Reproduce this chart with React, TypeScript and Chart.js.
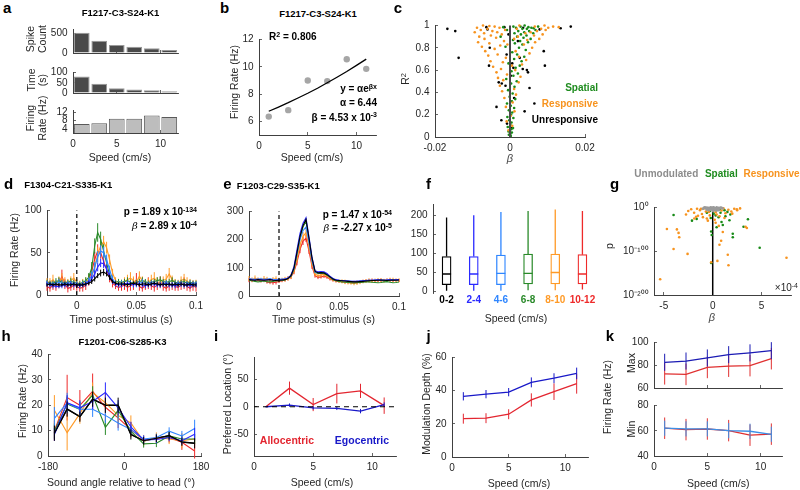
import React, { useEffect, useRef } from 'react';
import { Chart, registerables } from 'chart.js';

Chart.register(...registerables);

const FONT = '"Liberation Sans", Arial, Helvetica, sans-serif';
Chart.defaults.font.family = FONT;

/* ================= DATA ================= */
// panel a / b
const aSpeed = [1, 3, 5, 7, 9, 11];
const aSpikeCount = [515, 310, 207, 160, 122, 75];
const aTimeSec = [81, 45, 23, 17, 13, 9];
const aRateHz = [6.35, 6.82, 9.0, 8.95, 10.55, 9.85];
const bFitSpeed = [1, 2, 3, 4, 5, 6, 7, 8, 9, 10, 11];
const bFitRate = [6.74, 7.05, 7.37, 7.71, 8.06, 8.43, 8.83, 9.23, 9.65, 10.1, 10.56];

// panel c  [beta, R^2]
const cUnresponsive = [
  [-0.0167, 0.97], [-0.0146, 0.95], [-0.0137, 0.71], [-0.0063, 0.985], [-0.006, 0.965], [-0.0056, 0.64],
  [-0.0054, 0.8], [-0.0036, 0.27], [-0.003, 0.49], [-0.0023, 0.15], [-0.0015, 0.985], [-0.0022, 0.48],
  [-0.0012, 0.46], [0.0006, 0.66], [0.0009, 0.62], [0.0034, 0.61], [0.0045, 0.6], [0.0048, 0.58],
  [0.0039, 0.23], [0.0052, 0.44], [0.0065, 0.3], [0.009, 0.77], [0.0093, 0.64], [0.0079, 0.965],
  [0.0035, 0.98], [0.0011, 0.35], [-0.0008, 0.12], [0.0002, 0.55], [0.0135, 0.975], [0.0162, 0.99],
  [-0.0009, 0.74], [0.0021, 0.86], [0.0026, 0.71], [0.0005, 0.08], [-0.0004, 0.92],
];
const cSpatial = [
  [0.0002, 0.01], [-0.0003, 0.02], [0.0001, 0.03], [0.0005, 0.04], [-0.0004, 0.05], [0.0003, 0.07],
  [0.0008, 0.08], [-0.0006, 0.09], [0.0001, 0.11], [0.0004, 0.13], [-0.0002, 0.15], [0.0009, 0.17],
  [-0.0007, 0.18], [0.0003, 0.2], [0.0006, 0.22], [-0.0003, 0.24], [0.0011, 0.26], [0.0002, 0.28],
  [-0.0008, 0.3], [0.0005, 0.32], [0.0014, 0.34], [-0.0001, 0.36], [0.0007, 0.39], [-0.0005, 0.42],
  [0.0012, 0.45], [0.0003, 0.48], [0.0018, 0.5], [-0.001, 0.52], [0.0009, 0.55], [0.0021, 0.57],
  [0.0004, 0.59], [0.0015, 0.62], [0.0026, 0.64], [-0.0004, 0.66], [0.0031, 0.68], [0.0011, 0.7],
  [0.0038, 0.72], [0.0019, 0.74], [0.0006, 0.76], [0.0042, 0.78], [0.0024, 0.8], [-0.0012, 0.81],
  [0.0033, 0.83], [0.0013, 0.84], [0.0048, 0.85], [0.0027, 0.86], [0.0008, 0.87], [0.0055, 0.88],
  [0.0036, 0.89], [0.0019, 0.9], [-0.0025, 0.9], [0.0044, 0.91], [0.0029, 0.92], [0.0062, 0.93],
  [0.0012, 0.93], [0.0038, 0.94], [0.0051, 0.95], [0.0022, 0.95], [-0.0008, 0.96], [0.0068, 0.96],
  [0.0033, 0.97], [0.0045, 0.97], [0.0016, 0.98], [0.0057, 0.98], [0.0028, 0.99], [0.0075, 0.99],
  [0.0039, 1.0], [0.0009, 0.99], [0.0049, 0.985], [-0.0018, 0.985], [0.0063, 0.975],
];
const cResponsive = [
  [-0.0004, 0.06], [0.0006, 0.1], [-0.0009, 0.14], [0.0002, 0.19], [0.0012, 0.23], [-0.0011, 0.27],
  [0.0007, 0.31], [-0.0015, 0.35], [0.0016, 0.38], [-0.0021, 0.41], [0.0011, 0.43], [-0.0027, 0.46],
  [0.0023, 0.49], [-0.0018, 0.51], [-0.0032, 0.53], [0.0028, 0.54], [-0.0008, 0.56], [-0.0036, 0.58],
  [0.0014, 0.6], [-0.0024, 0.61], [-0.0045, 0.63], [0.0032, 0.65], [-0.0019, 0.67], [-0.0052, 0.68],
  [0.0043, 0.69], [-0.0011, 0.71], [0.0024, 0.72], [-0.0058, 0.73], [-0.0033, 0.74], [0.0052, 0.75],
  [-0.0066, 0.77], [0.0015, 0.77], [-0.0041, 0.79], [0.0059, 0.8], [-0.0075, 0.81], [-0.0026, 0.82],
  [0.0037, 0.83], [-0.0055, 0.84], [0.0067, 0.85], [-0.0085, 0.85], [-0.0016, 0.86], [0.0046, 0.87],
  [-0.0068, 0.88], [0.0078, 0.88], [-0.0037, 0.89], [0.0021, 0.9], [-0.0082, 0.9], [-0.0051, 0.91],
  [0.0064, 0.91], [-0.0022, 0.92], [0.0087, 0.92], [-0.0069, 0.93], [-0.0034, 0.94], [0.0055, 0.94],
  [-0.0094, 0.94], [0.0072, 0.95], [-0.0047, 0.95], [-0.0013, 0.96], [0.0095, 0.96], [-0.0078, 0.96],
  [0.0083, 0.97], [-0.006, 0.97], [-0.0028, 0.98], [0.0102, 0.98], [-0.0088, 0.98], [0.0066, 0.99],
  [-0.0041, 0.99], [0.0115, 0.99], [-0.0072, 1.0], [0.0025, 1.0], [0.0092, 1.0], [-0.0055, 0.995],
  [0.013, 0.985], [0.0018, 0.97], [0.0041, 0.93], [0.0011, 0.88], [-0.0007, 0.83], [0.0005, 0.64],
];

// panels d / e : time bins (s)
const tBins = [
  -0.025, -0.0225, -0.02, -0.0175, -0.015, -0.0125, -0.01, -0.0075, -0.005, -0.0025,
  0, 0.0025, 0.005, 0.0075, 0.01, 0.0125, 0.015, 0.0175, 0.02, 0.0225,
  0.025, 0.0275, 0.03, 0.0325, 0.035, 0.0375, 0.04, 0.0425, 0.045, 0.0475,
  0.05, 0.0525, 0.055, 0.0575, 0.06, 0.0625, 0.065, 0.0675, 0.07, 0.0725,
  0.075, 0.0775, 0.08, 0.0825, 0.085, 0.0875, 0.09, 0.0925, 0.095, 0.0975, 0.1,
];
const dBlack = [12,13,12,13,12,12,13,12,12,13, 12,12,12,13,14,16,19,23,26,27, 25,21,16,14,13,13,13,12,13,14, 13,12,13,13,12,13,14,13,12,13, 12,13,12,13,12,13,12,12,13,12, 12];
const dBlue = [13,12,11,10,10,11,12,12,13,12, 12,11,12,13,15,19,25,33,38,37, 31,22,16,13,12,12,13,14,13,12, 13,13,12,11,12,13,13,12,12,13, 13,12,12,11,12,13,12,12,11,12, 12];
const dLightBlue = [14,13,13,14,15,14,13,14,14,13, 13,12,13,14,17,23,33,45,52,50, 42,30,19,14,13,14,13,13,14,13, 12,14,15,13,13,14,14,13,12,13, 14,13,12,13,14,13,12,13,14,13, 13];
const dGreen = [15,14,14,16,17,15,14,15,16,15, 14,13,15,17,21,32,58,74,66,52, 38,24,17,15,16,15,16,17,15,14, 15,16,17,16,14,15,16,17,18,16, 15,16,17,15,14,15,16,14,15,14, 14];
const dOrange = [16,15,18,14,17,19,16,15,17,20, 15,13,14,16,18,22,32,48,58,63, 56,42,26,17,15,14,16,18,20,17, 15,22,17,13,15,18,20,16,14,17, 19,25,18,15,14,17,19,16,15,13, 14];
const dRed = [10,8,12,10,14,22,13,8,9,12, 10,8,9,12,18,28,42,52,50,40, 30,20,14,11,9,10,12,9,11,13, 18,10,8,12,14,11,9,12,15,10, 8,11,13,10,9,12,14,10,8,11, 9];
const dBlackErr = [2,2,2,2,2,2,2,2,2,2, 2,2,2,2,2,3,3,3,4,4, 3,3,2,2,2,2,2,2,2,2, 2,2,2,2,2,2,2,2,2,2, 2,2,2,2,2,2,2,2,2,2, 2];
const dBlueErr = [3,3,3,2,2,3,3,3,3,3, 3,3,3,3,3,4,4,5,5,5, 4,4,3,3,3,3,3,3,3,3, 3,3,3,3,3,3,3,3,3,3, 3,3,3,3,3,3,3,3,3,3, 3];
const dLightBlueErr = [3,3,3,3,4,3,3,3,3,3, 3,3,3,3,4,5,6,7,7,7, 6,5,4,3,3,3,3,3,3,3, 3,3,4,3,3,3,3,3,3,3, 3,3,3,3,3,3,3,3,3,3, 3];
const dGreenErr = [3,3,3,4,4,3,3,3,4,3, 3,3,3,4,5,7,9,11,9,8, 6,5,4,3,3,3,3,4,3,3, 3,3,4,3,3,3,3,4,4,3, 3,3,4,3,3,3,3,3,3,3, 3];
const dOrangeErr = [4,5,6,4,5,7,5,4,5,6, 4,4,5,5,6,7,8,9,8,7, 7,6,5,4,4,4,5,6,7,5, 4,6,5,4,5,6,7,5,4,5, 6,7,5,4,4,5,6,5,4,4, 4];
const dRedErr = [5,4,6,5,6,8,6,5,4,6, 5,4,5,6,7,8,9,8,7,6, 6,5,5,4,4,5,6,5,6,7, 8,5,4,6,7,5,5,6,7,5, 4,6,7,5,4,6,7,5,4,6, 5];

const eBlack = [58,57,56,58,57,56,57,58,56,55, 56,57,58,62,72,100,155,212,250,272, 205,135,88,82,83,82,76,68,60,56, 55,54,53,52,51,50,50,51,52,53, 54,55,55,56,57,56,55,56,57,56, 57];
const eBlue = [60,58,57,59,58,57,58,59,57,56, 57,58,60,64,74,105,165,222,258,278, 210,138,90,86,87,86,80,70,62,58, 56,55,54,53,52,52,52,53,54,55, 56,56,57,58,57,56,57,58,57,58, 58];
const eLightBlue = [61,60,59,60,61,59,60,61,59,58, 59,60,61,64,72,98,150,200,232,245, 190,125,85,82,84,83,78,68,61,57, 56,55,54,53,52,51,52,53,54,55, 56,56,57,56,57,56,57,58,57,56, 57];
const eGreen = [55,54,52,50,52,53,51,50,52,53, 54,55,57,62,70,95,148,205,245,265, 198,128,84,80,81,80,74,66,58,54, 52,50,49,48,47,46,47,48,49,50, 50,49,48,47,48,50,51,49,47,48, 50];
const eOrange = [62,58,63,59,57,62,60,56,59,61, 57,58,60,63,70,90,132,180,212,225, 175,115,78,72,75,76,72,64,58,55, 53,52,50,48,46,45,47,49,51,53, 55,54,56,57,55,54,56,58,57,55, 56];
const eRed = [56,55,58,57,54,56,50,48,47,49, 52,55,58,62,68,86,120,165,195,205, 160,105,72,66,68,70,67,60,56,53, 52,51,50,49,48,48,49,50,52,54, 55,56,55,54,56,55,57,56,55,56, 55];
const eOrangeErr = [9,8,10,7,8,9,8,7,8,9, 8,7,8,8,9,10,12,14,15,14, 12,10,8,7,8,8,7,7,6,6, 6,7,8,7,6,7,8,7,6,7, 8,7,6,7,8,7,6,7,8,7, 7];
const eRedErr = [7,6,7,6,6,7,6,6,7,8, 6,6,7,7,8,9,11,13,14,13, 11,9,7,6,6,6,6,5,5,5, 5,5,6,5,5,6,5,5,6,5, 5,6,5,5,6,5,5,6,5,5, 5];

// panel f (box plot, firing rate per speed bin)
const fLabels = ['0-2', '2-4', '4-6', '6-8', '8-10', '10-12'];
const fLow = [1, 1, 1, 2, 2, 4];
const fQ1 = [17, 17, 17, 19, 19, 19];
const fMedian = [45, 45, 46.5, 46.5, 49, 45];
const fQ3 = [91, 91, 95, 97.6, 97.6, 96];
const fHigh = [194, 200, 208, 211, 215, 211];

// panel g  [beta (x1e-4), p]
const gUnmodulated = [
  [-0.8, 1], [-0.6, 0.5], [-0.4, 1e-1], [-0.2, 1], [0, 0.3], [0.2, 1e-2], [0.4, 1], [0.6, 1e-1],
  [0.8, 0.5], [-0.7, 1e-2], [-0.5, 1e-3], [-0.3, 1e-4], [-0.1, 1e-2], [0.1, 1e-5], [0.3, 1e-3],
  [0.5, 1e-4], [0.7, 1e-2], [-0.9, 1e-1], [0.9, 1e-1], [-0.4, 1e-6], [0.4, 1e-7], [0, 1e-3],
  [-0.2, 1e-5], [0.2, 1e-6], [0, 1e-8], [-0.6, 1e-5], [0.6, 1e-6], [1.0, 1e-2], [-1.0, 1e-3], [0.1, 1],
];
const gResponsive = [
  [-2.5, 1e-8], [-2.2, 1e-4], [-1.9, 1e-12], [-1.6, 1e-3], [-1.3, 1e-6], [-1.1, 1e-15], [-0.9, 1e-2],
  [-0.7, 1e-9], [-0.5, 1e-4], [-0.3, 1e-18], [-0.2, 1e-1], [0.1, 1e-6], [0.3, 1e-11], [0.5, 1e-3],
  [0.7, 1e-20], [0.9, 1e-7], [1.1, 1e-2], [1.3, 1e-13], [1.6, 1e-5], [1.9, 1e-9], [2.2, 1e-3],
  [2.5, 1e-6], [2.8, 1e-2], [-1.0, 1e-22], [-0.6, 1e-25], [0.4, 1e-16], [1.2, 1e-24], [-1.5, 1e-19],
  [2.0, 1e-14], [-2.73, 1e-16], [-1.88, 1e-25], [-1.7, 1e-21], [2.46, 1e-4], [-0.4, 1e-10],
  [0.2, 1e-28], [-1.2, 1e-3], [-4.68, 1e-49], [-3.66, 1e-50], [-3.49, 1e-58], [-3.42, 1e-68],
  [-4.0, 1e-95], [-2.57, 1e-106], [-5.37, 1e-164], [-0.16, 1e-125], [0.48, 1e-122], [1.54, 1e-108],
  [1.61, 1e-132], [0.86, 1e-76], [0.69, 1e-85], [3.36, 1e-44], [3.49, 1e-47], [7.54, 1e-115],
  [1.03, 1e-56], [0.62, 1e-42], [0.3, 1e-35], [-0.5, 1e-30],
];
const gSpatial = [
  [-4.0, 1e-17], [-2.12, 1e-30], [-1.64, 1e-26], [-0.16, 1e-55], [-0.1, 1e-63], [2.05, 1e-60],
  [2.05, 1e-68], [3.15, 1e-44], [3.6, 1e-27], [4.8, 1e-92], [-0.16, 1e-127], [1.71, 1e-29],
  [1.03, 1e-40], [0.2, 1e-2], [0.5, 1e-5], [-0.3, 1e-8], [0.8, 1e-12], [1.2, 1e-6], [0.3, 1e-18],
  [-0.5, 1e-3], [1.5, 1e-10], [0.6, 1e-22], [0.1, 1e-14], [0.9, 1e-33], [0.4, 1e-45], [1.3, 1e-20],
  [-0.2, 1e-24], [0.7, 1e-4], [-0.6, 1e-12], [1.8, 1e-16],
];
const gYTicks = [1e-200, 1e-100, 1];
const gYTickLabels = ['10⁻²⁰⁰', '10⁻¹⁰⁰', '10⁰'];

// panel h
const hAngle = [-165, -135, -105, -75, -45, -15, 15, 45, 75, 105, 135, 165];
const hBlack = [9, 18.5, 15.5, 22.4, 20, 20, 8.5, 6, 7, 8, 5.5, 5];
const hBlue = [8.5, 21, 19, 21.5, 25, 19, 11.5, 6.3, 6.5, 7.3, 6, 8.6];
const hLightBlue = [14.8, 20.9, 18.4, 18.4, 16, 13, 10.4, 6.7, 7.3, 9.8, 7.9, 10.8];
const hGreen = [9.8, 20.5, 18.4, 24, 11.3, 18, 9.8, 4.8, 5, 7.9, 6.7, 6.7];
const hOrange = [18, 9.2, 16.7, 25, 21, 16, 13, 5.8, 7.3, 6.7, 6, 6.7];
const hRed = [10, 23, 20, 25.5, 19.2, 15, 10.4, 6.3, 6.7, 7.3, 5.4, 2];
const hBlackErr = [3, 3, 2, 3, 3, 3, 2, 1.5, 1.5, 1.5, 1.5, 2];
const hBlueErr = [2.5, 3, 3, 3, 4, 3, 2, 1.5, 1.5, 1.5, 1.5, 2.5];
const hLightBlueErr = [4.5, 4, 3, 3, 3, 3, 2, 1.5, 1.5, 1.5, 2, 3.5];
const hGreenErr = [3, 3, 3, 3.5, 3, 3, 2, 1.5, 1.5, 1.5, 1.5, 2];
const hOrangeErr = [6, 7, 4, 4, 4, 3, 3, 2, 2, 2, 3, 2];
const hRedErr = [4, 9, 6, 7, 6, 4, 3, 2, 2, 2, 3, 3];

// panels i / j / k (speed bins, cm/s)
const speedBins = [1, 3, 5, 7, 9, 11];
const iAllocentric = [0, 34, 4, 24, 29, 2];
const iAllocentricErr = [0, 12, 12, 18, 13, 15];
const iEgocentric = [0, 3, -2, -3, -8, 4];
const iEgocentricErr = [1, 3, 3, 3, 4, 4];
const jEgocentric = [36.6, 37.9, 39.1, 45, 47.5, 50.4];
const jEgocentricErr = [2.5, 2.5, 2.5, 3, 3, 3.5];
const jAllocentric = [23.1, 23.4, 25.8, 34.4, 39.4, 44.2];
const jAllocentricErr = [3, 3, 3, 4, 5, 6];
const kMaxEgo = [82.6, 83.7, 86.4, 89.3, 90.9, 92.8];
const kMaxEgoErr = [7.5, 7.5, 7.5, 7.5, 7.5, 7.5];
const kMaxAllo = [72.5, 72, 78.1, 79.2, 79.7, 85.8];
const kMaxAlloErr = [9.5, 9.5, 9.5, 9.5, 9.5, 9.5];
const kMinEgo = [62, 61.5, 61.5, 60.1, 59.6, 57.2];
const kMinEgoErr = [6, 6, 6, 6, 6, 6];
const kMinAllo = [62, 60.9, 61.4, 60.1, 56.5, 57.3];
const kMinAlloErr = [8.5, 8.5, 8.5, 8.5, 8.5, 8.5];

/* ================= STYLE ================= */
const AX = '#404040';
const TXT = '#262626';
const speedColors = ['#000000', '#2a2aff', '#2f86ff', '#2a8a2a', '#ff9a26', '#ee2a2a'];
const SC_ORANGE = '#f7931e';
const SC_GREEN = '#178a17';
const RED2 = '#e32630';
const BLUE2 = '#1818c8';

const ML = 46, MR = 22, MT = 10, MB = 26;

type Box = { x: number; y: number; w: number; h: number };

function sc(axis: 'x' | 'y', min: number, max: number, vals: number[], o: any = {}) {
  const isX = axis === 'x';
  return {
    type: o.type || 'linear',
    position: isX ? 'bottom' : 'left',
    min,
    max,
    offset: false,
    grid: { display: o.marks !== false, drawOnChartArea: false, drawTicks: true, tickLength: -3, offset: false, color: AX, lineWidth: 0.8 },
    border: { display: o.line !== false, color: AX, width: 1 },
    ticks: {
      display: o.labels !== false,
      padding: isX ? 8 : 8.5,
      color: TXT,
      font: { size: 10, family: FONT },
      autoSkip: false,
      maxRotation: 0,
      minRotation: 0,
      callback: o.fmt || ((v: any) => String(v)),
    },
    afterBuildTicks: (s: any) => {
      s.ticks = vals.map((v) => ({ value: v }));
    },
    afterFit: (s: any) => {
      if (isX) s.height = MB;
      else s.width = ML;
    },
  };
}

const pts = (xs: number[], ys: number[]) => xs.map((x, i) => ({ x, y: ys[i] }));

const ser = (xs: number[], ys: number[], color: string, extra: any = {}) => ({
  data: pts(xs, ys),
  borderColor: color,
  backgroundColor: color,
  showLine: true,
  pointRadius: 0,
  borderWidth: 1.1,
  tension: 0,
  clip: false,
  ...extra,
});

const dots = (pairs: number[][], color: string, r = 1.3) => ({
  data: pairs.map((p) => ({ x: p[0], y: p[1] })),
  backgroundColor: color,
  borderColor: color,
  pointRadius: r,
  pointBorderWidth: 0,
  showLine: false,
  clip: false,
});

const bars = (xs: number[], ys: number[], fill: string, edge: string) => ({
  data: pts(xs, ys),
  backgroundColor: fill,
  borderColor: edge,
  borderWidth: 1,
  barPercentage: 1,
  categoryPercentage: 0.9,
});

const errPlugin = {
  id: 'errbars',
  beforeDatasetDraw(chart: any, args: any) {
    const ds = chart.data.datasets[args.index];
    if (!ds.errors) return;
    const xs = chart.scales.x;
    const ys = chart.scales.y;
    const ctx = chart.ctx;
    ctx.save();
    ctx.strokeStyle = ds.borderColor;
    ctx.lineWidth = 1;
    ds.data.forEach((p: any, i: number) => {
      const e = ds.errors[i];
      if (!e) return;
      const x = xs.getPixelForValue(p.x);
      ctx.beginPath();
      ctx.moveTo(x, ys.getPixelForValue(p.y - e));
      ctx.lineTo(x, ys.getPixelForValue(p.y + e));
      ctx.stroke();
    });
    ctx.restore();
  },
};

const boxPlugin = {
  id: 'boxwhisk',
  afterDatasetsDraw(chart: any) {
    const ys = chart.scales.y;
    const meta = chart.getDatasetMeta(0);
    const ctx = chart.ctx;
    ctx.save();
    ctx.lineWidth = 1.3;
    fLabels.forEach((_, i) => {
      const el = meta.data[i];
      if (!el) return;
      const x = el.x;
      const hw = el.width / 2;
      ctx.strokeStyle = speedColors[i];
      ctx.beginPath();
      ctx.moveTo(x, ys.getPixelForValue(fQ3[i]));
      ctx.lineTo(x, ys.getPixelForValue(fHigh[i]));
      ctx.moveTo(x, ys.getPixelForValue(fQ1[i]));
      ctx.lineTo(x, ys.getPixelForValue(fLow[i]));
      ctx.moveTo(x - hw, ys.getPixelForValue(fMedian[i]));
      ctx.lineTo(x + hw, ys.getPixelForValue(fMedian[i]));
      ctx.stroke();
    });
    ctx.restore();
  },
};

function cfg(type: string, datasets: any[], x: any, y: any, extra: any = {}) {
  return {
    type,
    data: { datasets, ...(extra.labels ? { labels: extra.labels } : {}) },
    options: {
      responsive: false,
      animation: false,
      events: [],
      layout: { padding: { left: 0, right: MR, top: MT, bottom: 0 } },
      plugins: { legend: { display: false }, tooltip: { enabled: false }, title: { display: false } },
      scales: { x, y },
    },
    plugins: [errPlugin, ...(extra.plugins || [])],
  };
}

const timeSeries = (vals: number[][], errs: (number[] | null)[]) =>
  vals.map((v, i) => ser(tBins, v, speedColors[i], errs[i] ? { errors: errs[i] } : {}));

const specs: { box: Box; cfg: () => any }[] = [
  {
    box: { x: 73, y: 25, w: 105, h: 28 },
    cfg: () => cfg('bar', [bars(aSpeed, aSpikeCount, '#4a4a4a', '#9a9a9a')], sc('x', 0, 12, [0, 5, 10], { labels: false }), sc('y', 0, 600, [0, 500])),
  },
  {
    box: { x: 73, y: 68, w: 105, h: 25 },
    cfg: () => cfg('bar', [bars(aSpeed, aTimeSec, '#4a4a4a', '#9a9a9a')], sc('x', 0, 12, [0, 5, 10], { labels: false }), sc('y', 0, 100, [0, 50, 100])),
  },
  {
    box: { x: 73, y: 106, w: 105, h: 27 },
    cfg: () => cfg('bar', [bars(aSpeed, aRateHz, '#bdbdbd', '#5a5a5a')], sc('x', 0, 12, [0, 5, 10]), sc('y', 2, 13, [4, 8, 12])),
  },
  {
    box: { x: 259, y: 35, w: 117, h: 100 },
    cfg: () =>
      cfg(
        'scatter',
        [ser(bFitSpeed, bFitRate, '#000000', { borderWidth: 1.3 }), dots(aSpeed.map((s, i) => [s, aRateHz[i]]), '#a6a6a6', 3.2)],
        sc('x', 0, 12, [0, 5, 10]),
        sc('y', 5, 12, [6, 8, 10, 12]),
      ),
  },
  {
    box: { x: 435, y: 20.5, w: 150, h: 115.5 },
    cfg: () =>
      cfg(
        'scatter',
        [
          ser([0, 0], [0, 1], '#4a4a4a', { borderWidth: 2 }),
          dots(cResponsive, SC_ORANGE),
          dots(cSpatial, SC_GREEN),
          dots(cUnresponsive, '#000000'),
        ],
        sc('x', -0.02, 0.02, [-0.02, 0, 0.02]),
        sc('y', 0, 1, [0, 0.2, 0.4, 0.6, 0.8, 1]),
      ),
  },
  {
    box: { x: 46.5, y: 205.7, w: 148.5, h: 88.6 },
    cfg: () =>
      cfg(
        'scatter',
        [
          ser([0, 0], [0, 100], '#000000', { borderDash: [4, 3], borderWidth: 1.2 }),
          ...timeSeries([dBlack, dBlue, dLightBlue, dGreen, dOrange, dRed], [dBlackErr, dBlueErr, dLightBlueErr, dGreenErr, dOrangeErr, dRedErr]),
        ],
        sc('x', -0.025, 0.1, [0, 0.05, 0.1]),
        sc('y', 0, 100, [0, 50, 100]),
      ),
  },
  {
    box: { x: 248.5, y: 206.5, w: 150, h: 88.5 },
    cfg: () =>
      cfg(
        'scatter',
        [
          ser([0, 0], [0, 300], '#000000', { borderDash: [4, 3], borderWidth: 1.2 }),
          ...timeSeries([eBlack, eBlue, eLightBlue, eGreen, eOrange, eRed], [null, null, null, null, eOrangeErr, eRedErr]),
        ],
        sc('x', -0.025, 0.1, [0, 0.05, 0.1]),
        sc('y', 0, 300, [0, 100, 200, 300]),
      ),
  },
  {
    box: { x: 432.5, y: 200, w: 163, h: 92.5 },
    cfg: () =>
      cfg(
        'bar',
        [
          {
            data: fQ1.map((q, i) => [q, fQ3[i]]),
            backgroundColor: '#ffffff',
            borderColor: speedColors,
            borderWidth: 1.3,
            borderSkipped: false,
            barThickness: 9,
          },
        ],
        {
          type: 'category',
          position: 'bottom',
          offset: true,
          grid: { display: false, drawTicks: false },
          border: { display: false },
          ticks: {
            padding: 1.5,
            font: { size: 10, weight: 'bold', family: FONT },
            color: (c: any) => speedColors[c.index],
            autoSkip: false,
            maxRotation: 0,
            minRotation: 0,
          },
          afterFit: (s: any) => {
            s.height = MB;
          },
        },
        sc('y', -5, 228, [0, 50, 100, 150, 200]),
        { labels: fLabels, plugins: [boxPlugin] },
      ),
  },
  {
    box: { x: 654, y: 203, w: 137, h: 92 },
    cfg: () =>
      cfg(
        'scatter',
        [
          dots(gUnmodulated, '#9a9a9a', 1.4),
          dots(gResponsive, SC_ORANGE, 1.3),
          dots(gSpatial, SC_GREEN, 1.3),
          ser([0, 0], [1e-200, 1], '#000000', { borderWidth: 1.5 }),
        ],
        sc('x', -6, 8, [-5, 0, 5]),
        sc('y', 1e-200, 1, gYTicks, { type: 'logarithmic', fmt: (_v: any, i: number) => gYTickLabels[i] }),
      ),
  },
  {
    box: { x: 47.5, y: 350, w: 152.5, h: 106 },
    cfg: () =>
      cfg(
        'scatter',
        [
          ser(hAngle, hBlack, speedColors[0], { errors: hBlackErr }),
          ser(hAngle, hBlue, speedColors[1], { errors: hBlueErr }),
          ser(hAngle, hLightBlue, speedColors[2], { errors: hLightBlueErr }),
          ser(hAngle, hGreen, speedColors[3], { errors: hGreenErr }),
          ser(hAngle, hOrange, speedColors[4], { errors: hOrangeErr }),
          ser(hAngle, hRed, speedColors[5], { errors: hRedErr }),
          ser(hAngle, hBlack, speedColors[0], { borderWidth: 1.4 }),
        ],
        sc('x', -180, 180, [-180, 0, 180]),
        sc('y', 0, 40, [0, 10, 20, 30, 40]),
      ),
  },
  {
    box: { x: 254.3, y: 353, w: 141.7, h: 102.5 },
    cfg: () =>
      cfg(
        'scatter',
        [
          ser([0, 12], [0, 0], '#000000', { borderDash: [5, 4], borderWidth: 1.2 }),
          ser(speedBins, iEgocentric, BLUE2, { errors: iEgocentricErr, borderWidth: 1.3 }),
          ser(speedBins, iAllocentric, RED2, { errors: iAllocentricErr, borderWidth: 1.3 }),
        ],
        sc('x', 0, 12, [0, 5, 10]),
        sc('y', -90, 90, [-50, 0, 50]),
      ),
  },
  {
    box: { x: 452, y: 352.7, w: 136, h: 104 },
    cfg: () =>
      cfg(
        'scatter',
        [
          ser(speedBins, jEgocentric, BLUE2, { errors: jEgocentricErr, borderWidth: 1.3 }),
          ser(speedBins, jAllocentric, RED2, { errors: jAllocentricErr, borderWidth: 1.3 }),
        ],
        sc('x', 0, 12, [0, 5, 10]),
        sc('y', 0, 60, [0, 20, 40, 60]),
      ),
  },
  {
    box: { x: 654.3, y: 338.3, w: 127.7, h: 50 },
    cfg: () =>
      cfg(
        'scatter',
        [
          ser(speedBins, kMaxEgo, '#1b1bb4', { errors: kMaxEgoErr, borderWidth: 1.3 }),
          ser(speedBins, kMaxAllo, '#e03030', { errors: kMaxAlloErr, borderWidth: 1.3 }),
        ],
        sc('x', 0, 12, [0, 5, 10], { labels: false }),
        sc('y', 60, 100, [60, 80, 100]),
      ),
  },
  {
    box: { x: 654.3, y: 401, w: 127.7, h: 55 },
    cfg: () =>
      cfg(
        'scatter',
        [
          ser(speedBins, kMinEgo, '#3d8fe6', { errors: kMinEgoErr, borderWidth: 1.3 }),
          ser(speedBins, kMinAllo, '#e03030', { errors: kMinAlloErr, borderWidth: 1.3 }),
        ],
        sc('x', 0, 12, [0, 5, 10]),
        sc('y', 40, 80, [40, 60, 80]),
      ),
  },
];

/* ================= TEXT ================= */
const sup = (t: string) => <span style={{ fontSize: '0.7em', position: 'relative', top: '-0.45em' }}>{t}</span>;
const beta = <span style={{ fontStyle: 'italic', fontWeight: 'normal', fontFamily: '"DejaVu Serif", serif' }}>β</span>;

type Tx = { x: number; y: number; t: React.ReactNode; s?: number; b?: boolean; c?: string; r?: boolean; a?: 'l' | 'c' | 'r'; i?: boolean };

const LET = 15;
const TTL = 9.5;
const LAB = 10.5;
const ANN = 10;
const GREEN_T = '#1f8c1f';
const ORANGE_T = '#f7931e';

const texts: Tx[] = [
  { x: 7.2, y: 6.8, t: 'a', s: LET, b: true },
  { x: 224.5, y: 6.8, t: 'b', s: LET, b: true },
  { x: 398, y: 6.8, t: 'c', s: LET, b: true },
  { x: 8.7, y: 182.8, t: 'd', s: LET, b: true },
  { x: 227.5, y: 182.8, t: 'e', s: LET, b: true },
  { x: 428.5, y: 182.8, t: 'f', s: LET, b: true },
  { x: 614.7, y: 182.8, t: 'g', s: LET, b: true },
  { x: 6, y: 335.3, t: 'h', s: LET, b: true },
  { x: 216, y: 335.3, t: 'i', s: LET, b: true },
  { x: 428.7, y: 335.3, t: 'j', s: LET, b: true },
  { x: 610, y: 335.3, t: 'k', s: LET, b: true },
  { x: 120.5, y: 13.3, t: 'F1217-C3-S24-K1', s: TTL, b: true },
  { x: 318, y: 13.7, t: 'F1217-C3-S24-K1', s: TTL, b: true },
  { x: 68.3, y: 185.3, t: 'F1304-C21-S335-K1', s: TTL, b: true },
  { x: 278.3, y: 185.6, t: 'F1203-C29-S35-K1', s: TTL, b: true },
  { x: 122.5, y: 342, t: 'F1201-C06-S285-K3', s: TTL, b: true },
  { x: 30, y: 39.2, t: 'Spike', s: LAB, r: true, c: TXT },
  { x: 42, y: 39.2, t: 'Count', s: LAB, r: true, c: TXT },
  { x: 30.5, y: 80, t: 'Time', s: LAB, r: true, c: TXT },
  { x: 42, y: 80, t: '(s)', s: LAB, r: true, c: TXT },
  { x: 30, y: 118, t: 'Firing', s: LAB, r: true, c: TXT },
  { x: 42, y: 118, t: 'Rate (Hz)', s: LAB, r: true, c: TXT },
  { x: 120, y: 156.7, t: 'Speed (cm/s)', s: LAB, c: TXT },
  { x: 234, y: 82, t: 'Firing Rate (Hz)', s: LAB, r: true, c: TXT },
  { x: 312, y: 156.7, t: 'Speed (cm/s)', s: LAB, c: TXT },
  { x: 292.8, y: 37, t: <>R{sup('2')} = 0.806</>, s: ANN, b: true },
  { x: 377, y: 89, t: <>y = αe{sup('βx')}</>, s: ANN, b: true, a: 'r' },
  { x: 377, y: 102.7, t: 'α = 6.44', s: ANN, b: true, a: 'r' },
  { x: 377, y: 117.5, t: <>β = 4.53 x 10{sup('-3')}</>, s: ANN, b: true, a: 'r' },
  { x: 405, y: 79, t: <>R{sup('2')}</>, s: LAB, r: true, c: TXT },
  { x: 510, y: 158, t: 'β', s: 11, i: true, c: '#444' },
  { x: 598, y: 88, t: 'Spatial', s: ANN, b: true, a: 'r', c: GREEN_T },
  { x: 598, y: 104, t: 'Responsive', s: ANN, b: true, a: 'r', c: ORANGE_T },
  { x: 598, y: 120, t: 'Unresponsive', s: ANN, b: true, a: 'r', c: '#000' },
  { x: 14, y: 250, t: 'Firing Rate (Hz)', s: LAB, r: true, c: TXT },
  { x: 121, y: 319, t: 'Time post-stimulus (s)', s: LAB, c: TXT },
  { x: 197, y: 211.7, t: <>p = 1.89 x 10{sup('-134')}</>, s: ANN, b: true, a: 'r' },
  { x: 197, y: 226, t: <>{beta} = 2.89 x 10{sup('-4')}</>, s: ANN, b: true, a: 'r' },
  { x: 323.5, y: 319, t: 'Time post-stimulus (s)', s: LAB, c: TXT },
  { x: 392, y: 215, t: <>p = 1.47 x 10{sup('-54')}</>, s: ANN, b: true, a: 'r' },
  { x: 392, y: 228.3, t: <>{beta} = -2.27 x 10{sup('-5')}</>, s: ANN, b: true, a: 'r' },
  { x: 516, y: 318, t: 'Speed (cm/s)', s: LAB, c: TXT },
  { x: 666.3, y: 174, t: 'Unmodulated', s: ANN, b: true, c: '#8c8c8c' },
  { x: 721.3, y: 174, t: 'Spatial', s: ANN, b: true, c: GREEN_T },
  { x: 771.5, y: 174, t: 'Responsive', s: ANN, b: true, c: ORANGE_T },
  { x: 798, y: 287.7, t: <>×10{sup('-4')}</>, s: 10, a: 'r', c: TXT },
  { x: 609, y: 246, t: 'p', s: LAB, r: true, c: TXT },
  { x: 712, y: 317, t: 'β', s: 11, i: true, c: '#444' },
  { x: 21.7, y: 401, t: 'Firing Rate (Hz)', s: LAB, r: true, c: TXT },
  { x: 121, y: 481.7, t: 'Sound angle relative to head (°)', s: LAB, c: TXT },
  { x: 227, y: 404, t: 'Preferred Location (°)', s: LAB, r: true, c: TXT },
  { x: 322, y: 482.3, t: 'Speed (cm/s)', s: LAB, c: TXT },
  { x: 287, y: 440, t: 'Allocentric', s: 10.5, b: true, c: RED2 },
  { x: 362, y: 440, t: 'Egocentric', s: 10.5, b: true, c: BLUE2 },
  { x: 425.8, y: 404, t: 'Modulation Depth (%)', s: LAB, r: true, c: TXT },
  { x: 519, y: 483.3, t: 'Speed (cm/s)', s: LAB, c: TXT },
  { x: 607, y: 397, t: 'Firing Rate (Hz)', s: LAB, r: true, c: TXT },
  { x: 631, y: 363, t: 'Max', s: LAB, r: true, c: TXT },
  { x: 631, y: 429, t: 'Min', s: LAB, r: true, c: TXT },
  { x: 718.3, y: 482.7, t: 'Speed (cm/s)', s: LAB, c: TXT },
];

function outer(b: Box) {
  return { left: b.x - ML, top: b.y - MT, width: Math.round(b.w + ML + MR), height: Math.round(b.h + MT + MB) };
}

export default function App() {
  const refs = useRef<(HTMLCanvasElement | null)[]>([]);

  useEffect(() => {
    const charts: any[] = [];
    specs.forEach((s, i) => {
      const cv = refs.current[i];
      if (!cv) return;
      try {
        charts.push(new Chart(cv, s.cfg()));
      } catch (e) {
        console.error(e);
      }
    });
    return () => charts.forEach((c) => c.destroy());
  }, []);

  return (
    <div
      style={{
        position: 'fixed',
        left: 0,
        top: 0,
        width: 800,
        height: 490,
        background: '#ffffff',
        overflow: 'hidden',
        fontFamily: FONT,
        color: '#000',
      }}
    >
      {specs.map((s, i) => {
        const o = outer(s.box);
        return (
          <canvas
            key={i}
            ref={(el) => {
              refs.current[i] = el;
            }}
            width={o.width}
            height={o.height}
            style={{ position: 'absolute', left: o.left, top: o.top, width: o.width, height: o.height }}
          />
        );
      })}
      {texts.map((t, i) => {
        const tx = t.a === 'r' ? '-100%' : t.a === 'l' ? '0' : '-50%';
        return (
          <div
            key={'t' + i}
            style={{
              position: 'absolute',
              left: t.x,
              top: t.y,
              transform: `translate(${tx},-50%)${t.r ? ' rotate(-90deg)' : ''}`,
              fontSize: t.s || 10,
              fontWeight: t.b ? 'bold' : 'normal',
              fontStyle: t.i ? 'italic' : 'normal',
              color: t.c || '#000',
              whiteSpace: 'nowrap',
              lineHeight: 1,
            }}
          >
            {t.t}
          </div>
        );
      })}
    </div>
  );
}
